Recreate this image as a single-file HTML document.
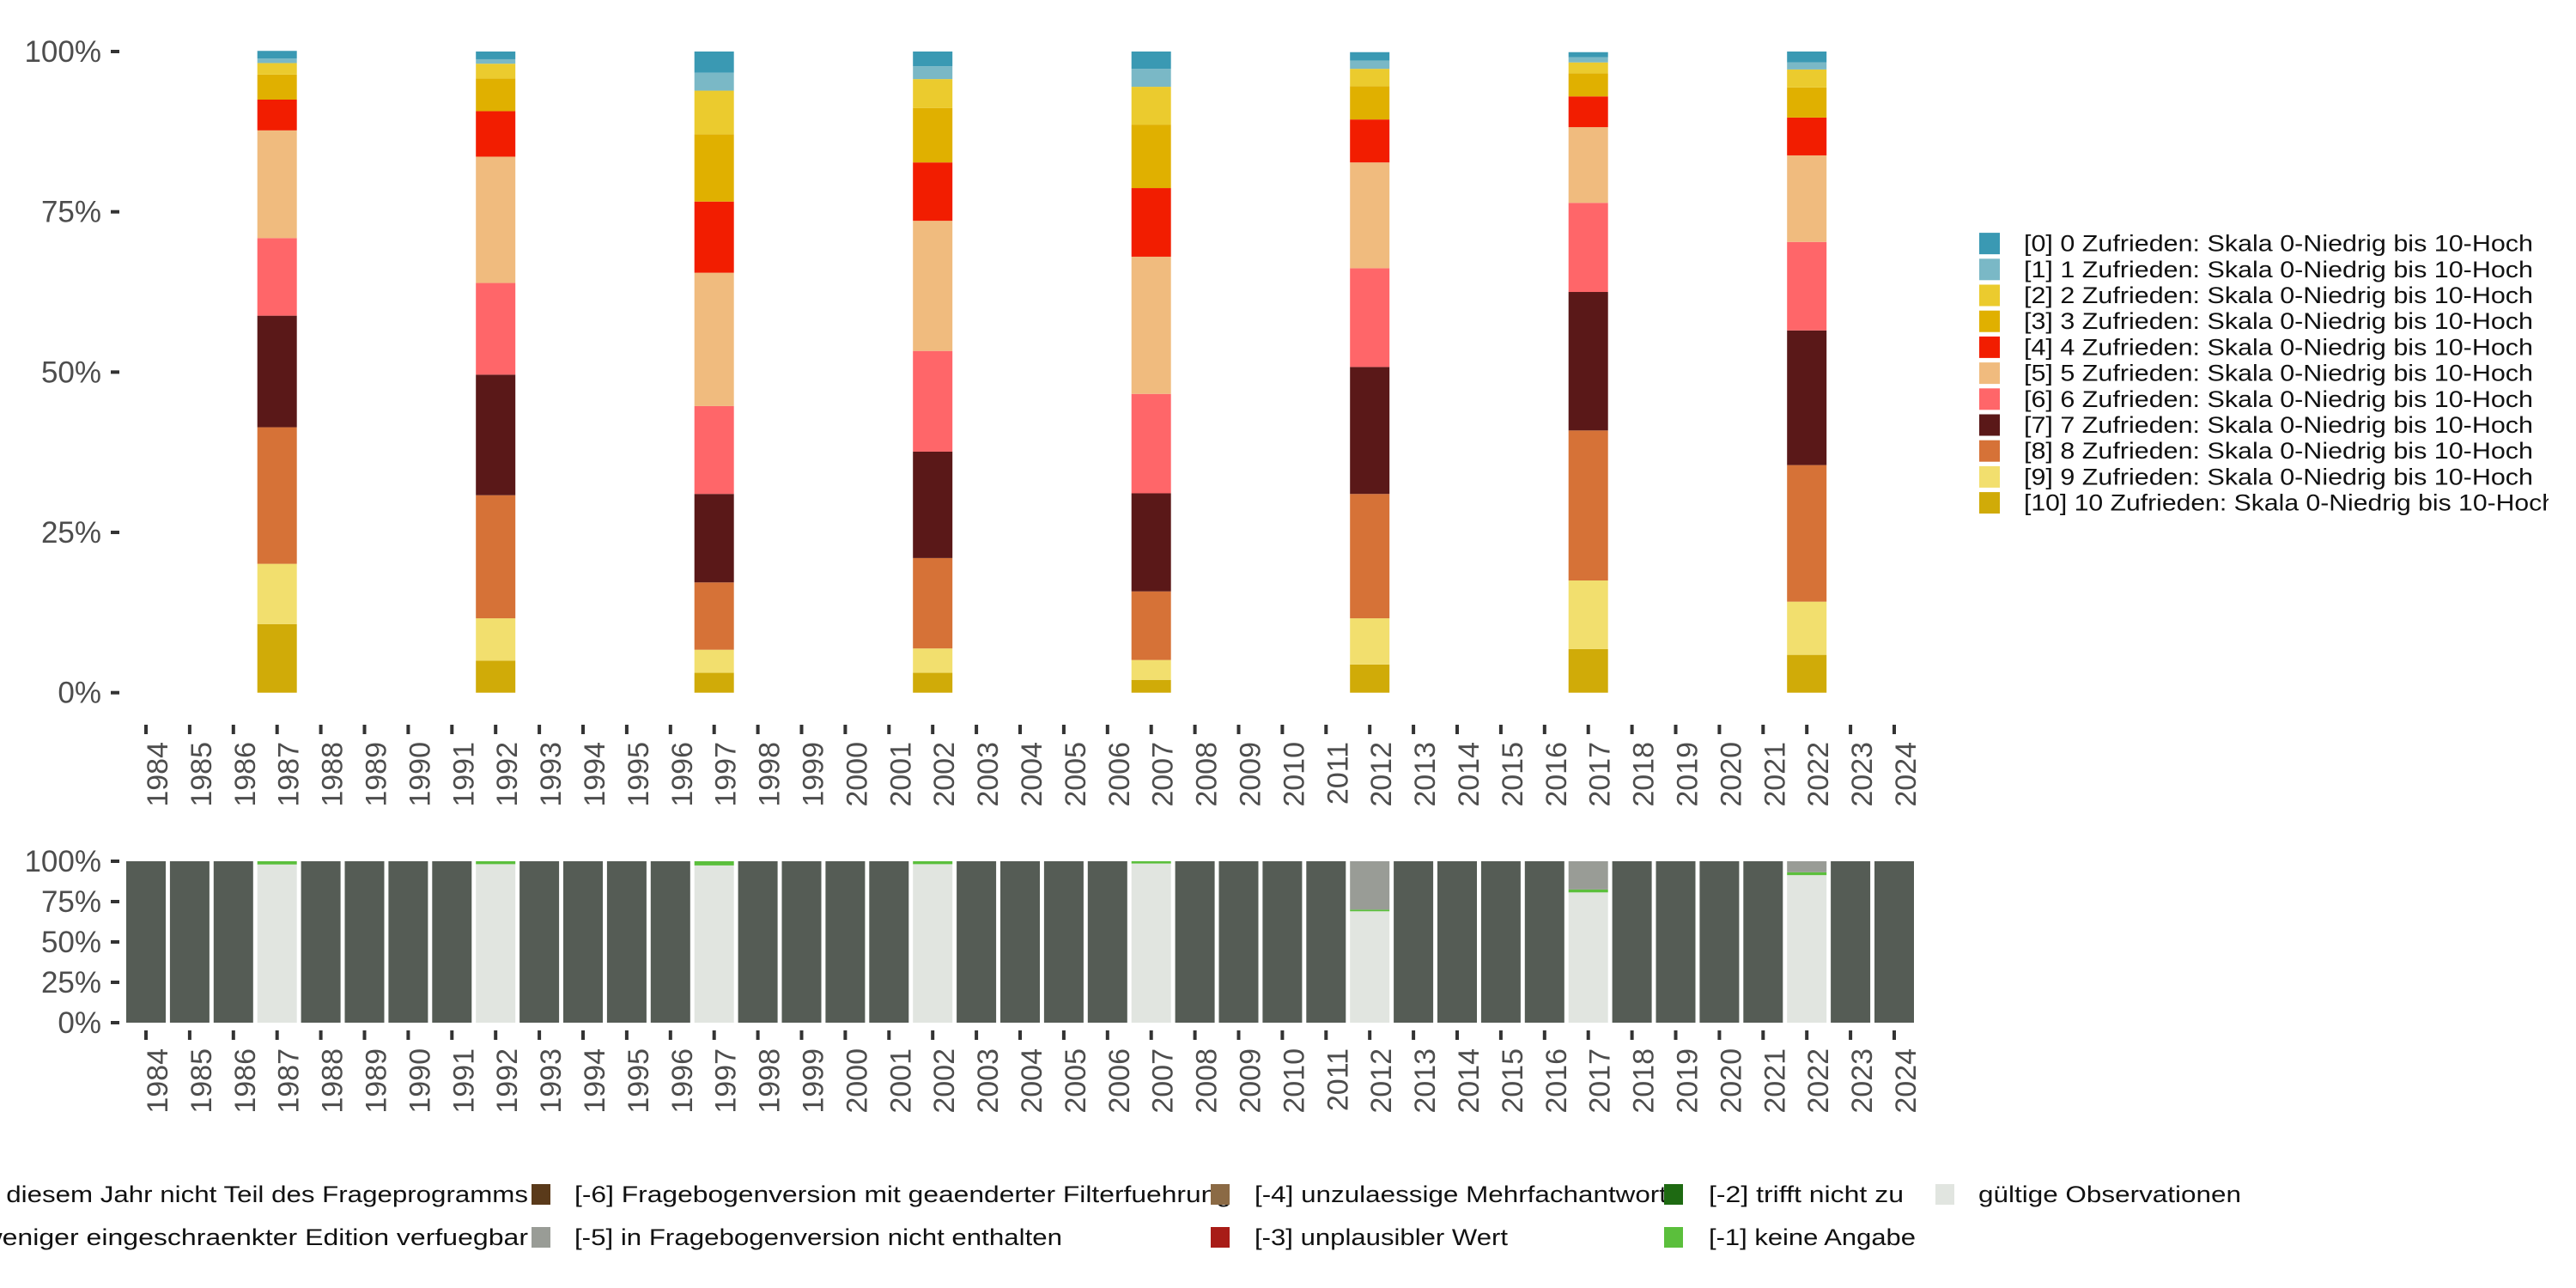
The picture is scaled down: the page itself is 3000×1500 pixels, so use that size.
<!DOCTYPE html>
<html><head><meta charset="utf-8">
<style>
html,body{margin:0;padding:0;background:#fff;width:3000px;height:1500px;overflow:hidden}
svg{display:block;font-family:"Liberation Sans",sans-serif}
</style></head>
<body>
<svg id="chart" width="3000" height="1500" viewBox="0 0 3000 1500" xmlns="http://www.w3.org/2000/svg">
<defs><clipPath id="clipLast"><rect x="2300" y="560" width="668" height="60"/></clipPath></defs>
<g id="topPanel"></g>
<g id="bottomPanel"></g>
<g id="legendRight"></g>
<g id="legendBottom"></g>
</svg>
<script>
const NS="http://www.w3.org/2000/svg";
const years=[];for(let y=1984;y<=2024;y++)years.push(y);
const surveyYears=[1987,1992,1997,2002,2007,2012,2017,2022];
const scoreLabels=["[0] 0 Zufrieden: Skala 0-Niedrig bis 10-Hoch","[1] 1 Zufrieden: Skala 0-Niedrig bis 10-Hoch","[2] 2 Zufrieden: Skala 0-Niedrig bis 10-Hoch","[3] 3 Zufrieden: Skala 0-Niedrig bis 10-Hoch","[4] 4 Zufrieden: Skala 0-Niedrig bis 10-Hoch","[5] 5 Zufrieden: Skala 0-Niedrig bis 10-Hoch","[6] 6 Zufrieden: Skala 0-Niedrig bis 10-Hoch","[7] 7 Zufrieden: Skala 0-Niedrig bis 10-Hoch","[8] 8 Zufrieden: Skala 0-Niedrig bis 10-Hoch","[9] 9 Zufrieden: Skala 0-Niedrig bis 10-Hoch","[10] 10 Zufrieden: Skala 0-Niedrig bis 10-Hoch"];
const scoreColors=["#3a99b3","#7ab8c6","#ebcb2e","#e0b000","#f21d00","#f0bb7e","#ff6669","#5a1818","#d67237","#f2df6e","#d0ab08"];
const s1987=[1.2,0.7,1.8,3.9,4.8,16.8,12.1,17.4,21.3,9.4,10.7];
const s1992=[1.2,0.7,2.3,5.1,7.1,19.7,14.3,18.8,19.2,6.6,5.0];
const s1997=[3.3,2.8,6.8,10.5,11.1,20.8,13.7,13.8,10.5,3.6,3.1];
const s2002=[2.3,2.0,4.5,8.5,9.1,20.3,15.7,16.6,14.1,3.8,3.1];
const s2007=[2.7,2.8,5.9,9.9,10.7,21.4,15.5,15.3,10.7,3.1,2.0];
const s2012=[1.3,1.3,2.7,5.2,6.7,16.5,15.4,19.8,19.4,7.2,4.4];
const s2017=[0.8,0.8,1.7,3.6,4.8,11.8,13.9,21.6,23.4,10.7,6.8];
const s2022=[1.7,1.1,2.8,4.7,5.9,13.5,13.8,21.0,21.3,8.3,5.9];
const scoreSeries=[s1987,s1992,s1997,s2002,s2007,s2012,s2017,s2022];
const validShare=[98.0,98.2,97.4,98.2,98.6,69.0,80.7,91.4];
const noAnswerShare=[2.0,1.8,2.6,1.8,1.4,1.0,1.8,1.8];
const notInVersionShare=[0,0,0,0,0,30.0,17.5,6.8];
const yTicks=[0,25,50,75,100];
const yTickLabels=["0%","25%","50%","75%","100%"];

const X0=170,DX=50.9,BW=46;
const xPos=y=>X0+(y-1984)*DX;
const yTop=v=>806.7-(v/100)*(806.7-60);
const yBot=v=>1191-(v/100)*(1191-1003);

function el(tag,attrs,parent,text){const e=document.createElementNS(NS,tag);for(const k in attrs)e.setAttribute(k,attrs[k]);if(text!==undefined)e.textContent=text;parent.appendChild(e);return e;}

const topG=document.getElementById('topPanel');
const botG=document.getElementById('bottomPanel');

function yAxis(g,scale,name){
  yTicks.forEach((t,i)=>{
    const yy=scale(t);
    const tk=el('rect',{x:129,y:yy-2,width:10,height:4,fill:'#333'},g);
    
    
    const tx=el('text',{x:118,y:yy+12,'text-anchor':'end','font-size':35,fill:'#4d4d4d'},g,yTickLabels[i]);
    
    
  });
}
yAxis(topG,yTop,'top-y');
yAxis(botG,yBot,'bottom-y');

function xAxis(g,tickY,labelY,name){
  years.forEach(yr=>{
    const x=xPos(yr);
    const tk=el('rect',{x:x-2,y:tickY,width:4,height:11,fill:'#333'},g);
    
    
    const tx=el('text',{x:0,y:0,'text-anchor':'end','font-size':34,fill:'#4d4d4d',transform:'translate('+(x+25)+','+labelY+') rotate(-90)'},g,String(yr));
    
    
  });
}
xAxis(topG,844,864,'top-x');
xAxis(botG,1200,1221,'bottom-x');

surveyYears.forEach((yr,si)=>{
  const vals=scoreSeries[si];
  let cum=0;
  for(let k=10;k>=0;k--){
    const y1=yTop(cum), y2=yTop(cum+vals[k]);
    const r=el('rect',{x:xPos(yr)-BW/2,y:y2,width:BW,height:y1-y2,fill:scoreColors[k]},topG);
    
    
    cum+=vals[k];
  }
});

years.forEach(yr=>{
  const si=surveyYears.indexOf(yr);
  const x=xPos(yr)-BW/2;
  if(si<0){
    const r=el('rect',{x:x,y:yBot(100),width:BW,height:yBot(0)-yBot(100),fill:'#555c55'},botG);
    
    
  } else {
    const parts=[[validShare[si],'#e1e5e0','valid'],[noAnswerShare[si],'#5bbf3c','no-answer'],[notInVersionShare[si],'#999c96','not-in-version']];
    let cum=0;
    parts.forEach(p=>{
      if(p[0]<=0)return;
      const y1=yBot(cum),y2=yBot(cum+p[0]);
      const r=el('rect',{x:x,y:y2,width:BW,height:y1-y2,fill:p[1]},botG);
      
      
      cum+=p[0];
    });
  }
});

const lr=document.getElementById('legendRight');
scoreLabels.forEach((lab,i)=>{
  const cy=283.6+i*30.2;
  const g=el('g',{},lr);
  
  
  el('rect',{x:2305,y:cy-12.5,width:24,height:25,fill:scoreColors[i]},g);
  const t=el('text',{x:2357,y:cy+9,'font-size':27,fill:'#111',textLength:(i===10?620:593),lengthAdjust:'spacingAndGlyphs'},g,lab);
  if(i===10){t.setAttribute('clip-path','url(#clipLast)');}
});

const lb=document.getElementById('legendBottom');
const missLabels=["[-8] Frage in diesem Jahr nicht Teil des Frageprogramms","[-7] Nur in weniger eingeschraenkter Edition verfuegbar","[-6] Fragebogenversion mit geaenderter Filterfuehrung","[-5] in Fragebogenversion nicht enthalten","[-4] unzulaessige Mehrfachantwort","[-3] unplausibler Wert","[-2] trifft nicht zu","[-1] keine Angabe","gültige Observationen"];
const missColors=["#555c55","#b0b0b0","#5a3a1a","#999c96","#8b6a45","#a81c17","#1e6a12","#5bbf3c","#e1e5e0"];
const missKeyX=[-222,-222,619,619,1410,1410,1938,1938,2254];
const missTextX=[-170,-170,669,669,1461,1461,1990,1990,2304];
const missTextLen=[785,785,765,568,480,295,227,241,306];
const missRowY=[1391,1441,1391,1441,1391,1441,1391,1441,1391];
missLabels.forEach((lab,i)=>{
  const g=el('g',{},lb);
  
  
  el('rect',{x:missKeyX[i],y:missRowY[i]-12,width:22,height:24,fill:missColors[i]},g);
  el('text',{x:missTextX[i],y:missRowY[i]+9,'font-size':27,fill:'#111',textLength:missTextLen[i],lengthAdjust:'spacingAndGlyphs'},g,lab);
});
</script>
</body></html>
